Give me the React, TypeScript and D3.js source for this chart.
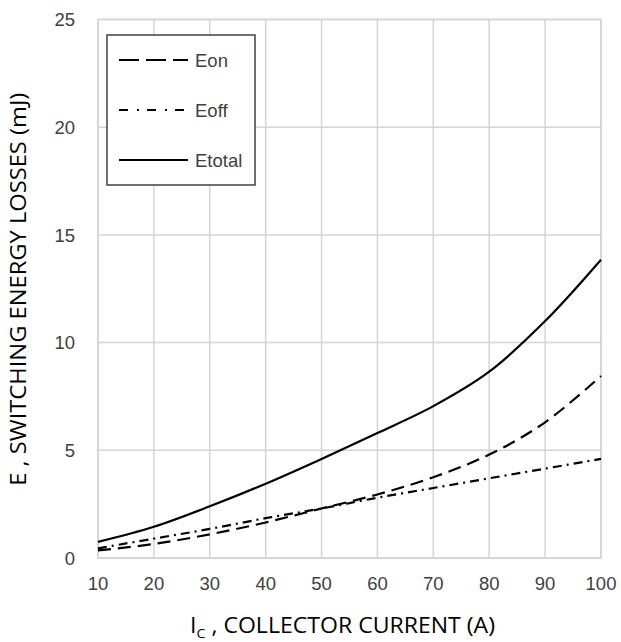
import React from "react";
import * as d3 from "d3";

const currents = [10, 20, 30, 40, 50, 60, 70, 80, 90, 100];
const eon = [0.35, 0.65, 1.1, 1.65, 2.3, 2.95, 3.75, 4.8, 6.3, 8.45];
const eoff = [0.45, 0.9, 1.35, 1.85, 2.3, 2.8, 3.25, 3.7, 4.15, 4.6];
const etotal = [0.75, 1.45, 2.4, 3.45, 4.6, 5.8, 7.05, 8.65, 11.0, 13.85];
const xTicks = [10, 20, 30, 40, 50, 60, 70, 80, 90, 100];
const yTicks = [0, 5, 10, 15, 20, 25];
const seriesNames = ["Eon", "Eoff", "Etotal"];

export default function App() {
  const W = 621, H = 642;
  const left = 98, right = 601, top = 19.5, bottom = 558;
  const x = d3.scaleLinear().domain([10, 100]).range([left, right]);
  const y = d3.scaleLinear().domain([0, 25]).range([bottom, top]);
  const line = (vals: number[]) =>
    d3.line<number>()
      .x((_, i) => x(currents[i]))
      .y((v) => y(v))
      .curve(d3.curveCatmullRom.alpha(0.5))(vals) as string;

  const series = [
    { name: seriesNames[0], vals: eon, dash: "13,7", legendDash: "20,7" },
    { name: seriesNames[1], vals: eoff, dash: "9,5,2,5", legendDash: "9,9,2,8" },
    { name: seriesNames[2], vals: etotal, dash: "", legendDash: "" },
  ];
  const grid = "#d4d4d4";
  const txt = "#404040";
  const tickFont = "'Liberation Sans', Arial, sans-serif";
  const titleFont = "'Open Sans', 'Noto Sans', sans-serif";

  return (
    <svg width={W} height={H} style={{ position: "absolute", left: 0, top: 0, background: "#fff" }}>
      <rect x={0} y={0} width={W} height={H} fill="#fff" />
      {xTicks.map((t) => (
        <line key={"gx" + t} x1={x(t)} x2={x(t)} y1={top} y2={bottom} stroke={grid} strokeWidth={1.5} />
      ))}
      {yTicks.map((t) => (
        <line key={"gy" + t} x1={left} x2={right} y1={y(t)} y2={y(t)} stroke={grid} strokeWidth={1.5} />
      ))}
      <rect x={left} y={top} width={right - left} height={bottom - top} fill="none" stroke={grid} strokeWidth={1.5} />
      {series.map((s) => (
        <path key={s.name} d={line(s.vals)} fill="none" stroke="#000" strokeWidth={2.2}
          strokeDasharray={s.dash || undefined} />
      ))}
      {yTicks.map((t) => (
        <text key={"ty" + t} x={75} y={y(t)} dy="0.36em" textAnchor="end" fontFamily={tickFont}
          fontSize={18.5} fill={txt}>{t}</text>
      ))}
      {xTicks.map((t) => (
        <text key={"tx" + t} x={x(t)} y={590} textAnchor="middle" fontFamily={tickFont}
          fontSize={18.5} fill={txt}>{t}</text>
      ))}
      <g>
        <rect x={107} y={35} width={148} height={150} fill="#fff" stroke="#404040" strokeWidth={1.5} />
        {series.map((s, i) => (
          <g key={"lg" + s.name}>
            <line x1={119} x2={188} y1={60 + i * 50} y2={60 + i * 50} stroke="#000" strokeWidth={2.2}
              strokeDasharray={s.legendDash || undefined} />
            <text x={195} y={67 + i * 50} fontFamily={tickFont} fontSize={18.5} fill={txt}>{s.name}</text>
          </g>
        ))}
      </g>
      <text x={0} y={0} transform={`translate(26, ${(top + bottom) / 2 + 0.5}) rotate(-90)`}
        textAnchor="middle" fontFamily={titleFont} fontSize={21} fill="#000"
        textLength={393} lengthAdjust="spacingAndGlyphs">E , SWITCHING ENERGY LOSSES (mJ)</text>
      <text x={190} y={633} fontFamily={titleFont} fontSize={21} fill="#000"
        textLength={305} lengthAdjust="spacingAndGlyphs">
        I<tspan fontSize={13} dy={5}>C</tspan><tspan dy={-5}> , COLLECTOR CURRENT (A)</tspan>
      </text>
    </svg>
  );
}
